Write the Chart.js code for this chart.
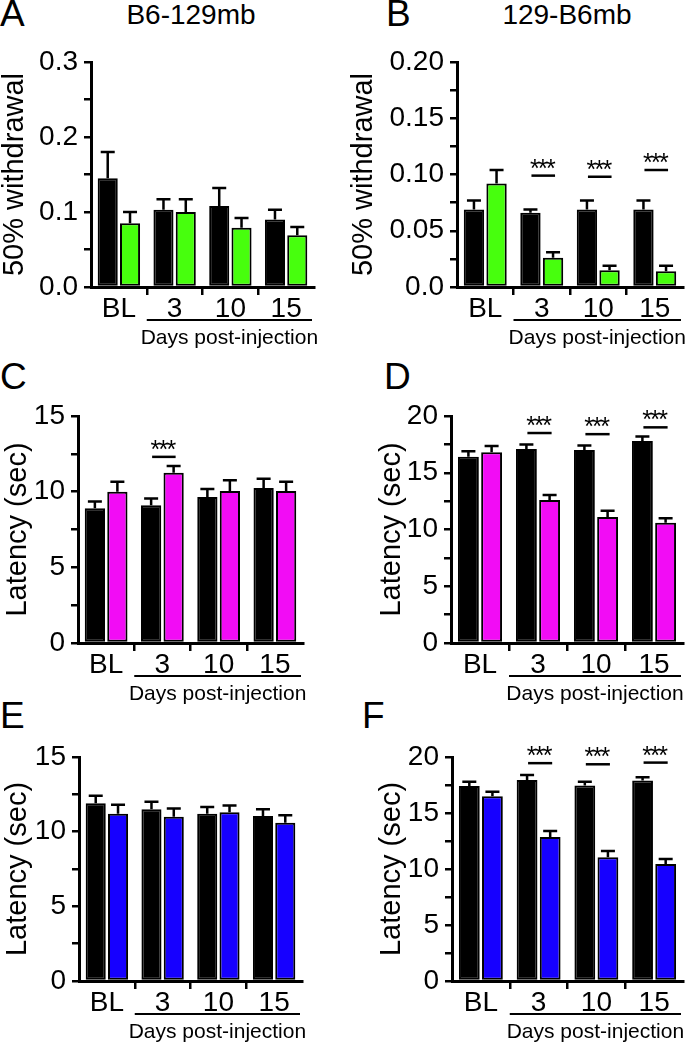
<!DOCTYPE html>
<html>
<head>
<meta charset="utf-8">
<script src="https://cdn.jsdelivr.net/npm/chart.js@4"></script>
<style>
  body { margin: 0; background: #fff; width: 685px; height: 1043px; position: relative; overflow: hidden;
         font-family: "Liberation Sans", Arial, sans-serif; color: #000; }
  canvas { position: absolute; }
  .letter { position: absolute; font-size: 37px; line-height: 1; }
  .title { position: absolute; font-size: 28px; line-height: 1; width: 200px; text-align: center; }
</style>
</head>
<body>
<div class="letter" style="left:0px;top:-5px">A</div>
<div class="letter" style="left:386px;top:-5px">B</div>
<div class="letter" style="left:0px;top:358px">C</div>
<div class="letter" style="left:384px;top:358px">D</div>
<div class="letter" style="left:0px;top:697px">E</div>
<div class="letter" style="left:362px;top:697px">F</div>
<div class="title" style="left:91px;top:1px">B6-129mb</div>
<div class="title" style="left:467px;top:1px">129-B6mb</div>

<canvas id="chartA" width="340" height="350" style="left:0;top:0"></canvas>
<canvas id="chartB" width="345" height="350" style="left:340px;top:0"></canvas>
<canvas id="chartC" width="340" height="360" style="left:0;top:345px"></canvas>
<canvas id="chartD" width="345" height="360" style="left:340px;top:345px"></canvas>
<canvas id="chartE" width="340" height="353" style="left:0;top:690px"></canvas>
<canvas id="chartF" width="345" height="353" style="left:340px;top:690px"></canvas>

<script>
// Data
const days = ['BL', '3', '10', '15'];
const xNote = 'Days post-injection';

// A - B6-129mb, von Frey
const aBlack = [0.145, 0.103, 0.108, 0.090];
const aBlackErr = [0.035, 0.014, 0.024, 0.013];
const aGreen = [0.085, 0.100, 0.079, 0.069];
const aGreenErr = [0.015, 0.017, 0.013, 0.011];
const aTicks = ['0.0', '', '0.1', '', '0.2', '', '0.3'];

// B - 129-B6mb, von Frey
const bBlack = [0.069, 0.066, 0.069, 0.069];
const bBlackErr = [0.008, 0.003, 0.008, 0.008];
const bGreen = [0.092, 0.026, 0.015, 0.014];
const bGreenErr = [0.012, 0.005, 0.004, 0.005];
const bSig = [null, 0.099, 0.098, 0.104];
const bTicks = ['0.0', '', '0.05', '', '0.10', '', '0.15', '', '0.20'];

// C / D - latency (magenta)
const cBlack = [8.9, 9.1, 9.65, 10.25];
const cBlackErr = [0.45, 0.45, 0.53, 0.6];
const cPink = [10.0, 11.25, 10.05, 10.05];
const cPinkErr = [0.65, 0.45, 0.7, 0.6];
const cSig = [null, 12.3, null, null];

const dBlack = [16.4, 17.1, 17.0, 17.8];
const dBlackErr = [0.5, 0.4, 0.4, 0.4];
const dPink = [16.8, 12.6, 11.1, 10.6];
const dPinkErr = [0.55, 0.45, 0.55, 0.4];
const dSig = [null, 18.5, 18.4, 19.0];

// E / F - latency (blue)
const eBlack = [11.9, 11.5, 11.2, 11.05];
const eBlackErr = [0.5, 0.5, 0.45, 0.45];
const eBlue = [11.2, 11.0, 11.3, 10.6];
const eBlueErr = [0.6, 0.55, 0.45, 0.5];

const fBlack = [17.4, 17.95, 17.45, 17.9];
const fBlackErr = [0.4, 0.45, 0.35, 0.3];
const fBlue = [16.5, 12.85, 11.05, 10.45];
const fBlueErr = [0.4, 0.55, 0.55, 0.45];
const fSig = [null, 19.45, 19.35, 19.5];

const lat15Ticks = ['0', '', '5', '', '10', '', '15'];
const lat20Ticks = ['0', '', '5', '', '10', '', '15', '', '20'];

const FAMILY = '"Liberation Sans", Arial, sans-serif';
const GREEN = '#47FF0D';
const PINK = '#F20CF5';
const BLUE = '#1600FF';

Chart.defaults.font.family = FAMILY;
Chart.defaults.color = '#000';

// error bars, significance marks and the "days" underline
const extras = {
  id: 'extras',
  afterDatasetsDraw(chart, args, opts) {
    const ctx = chart.ctx;
    const y = chart.scales.y;
    const x = chart.scales.x;
    ctx.save();
    ctx.strokeStyle = '#000';
    ctx.fillStyle = '#000';

    ctx.lineWidth = 2.5;
    chart.data.datasets.forEach((ds, di) => {
      chart.getDatasetMeta(di).data.forEach((bar, i) => {
        const top = y.getPixelForValue(ds.data[i] + ds.errors[i]);
        ctx.beginPath();
        ctx.moveTo(bar.x, bar.y);
        ctx.lineTo(bar.x, top);
        ctx.moveTo(bar.x - 7, top);
        ctx.lineTo(bar.x + 7, top);
        ctx.stroke();
      });
    });

    if (opts.sig) {
      const m0 = chart.getDatasetMeta(0).data;
      const m1 = chart.getDatasetMeta(1).data;
      ctx.lineWidth = 2.5;
      ctx.font = '25px ' + FAMILY;
      ctx.textAlign = 'center';
      ctx.textBaseline = 'alphabetic';
      opts.sig.forEach((v, i) => {
        if (v == null) return;
        const yy = y.getPixelForValue(v);
        const mid = (m0[i].x + m1[i].x) / 2 + 1;
        ctx.beginPath();
        ctx.moveTo(m0[i].x + 1, yy);
        ctx.lineTo(m1[i].x + 2, yy);
        ctx.stroke();
        [-8, 0, 8].forEach(dx => ctx.fillText('*', mid + dx, yy + 1));
      });
    }

    const x0 = x.getPixelForValue(0.5);
    const x1 = chart.chartArea.right - 2;
    const base = chart.chartArea.bottom;
    ctx.lineWidth = 2;
    ctx.beginPath();
    ctx.moveTo(x0, base + 33);
    ctx.lineTo(x1, base + 33);
    ctx.stroke();
    ctx.font = '21px ' + FAMILY;
    ctx.textAlign = 'center';
    ctx.textBaseline = 'middle';
    ctx.fillText(xNote, (x0 + x1) / 2, base + 51);
    ctx.restore();
  }
};

function makePanel(id, cfg) {
  const canvas = document.getElementById(id);
  const W = canvas.width, H = canvas.height;
  const [left, top, right, bottom] = cfg.area;
  return new Chart(canvas, {
    type: 'bar',
    data: {
      labels: days,
      datasets: [
        { data: cfg.black, errors: cfg.blackErr, backgroundColor: '#000' },
        { data: cfg.other, errors: cfg.otherErr, backgroundColor: cfg.fill }
      ].map(ds => Object.assign(ds, {
        borderColor: '#000', borderWidth: 2, borderSkipped: false,
        categoryPercentage: 0.8, barPercentage: 0.9
      }))
    },
    options: {
      responsive: false,
      animation: false,
      devicePixelRatio: 1,
      layout: { padding: { left: 0, top: top, right: W - right, bottom: 0 } },
      plugins: {
        legend: { display: false },
        tooltip: { enabled: false },
        extras: { sig: cfg.sig }
      },
      scales: {
        x: {
          afterFit: s => { s.height = H - bottom; },
          ticks: { color: '#000', font: { size: 28, lineHeight: 1 }, padding: 0, autoSkip: false, maxRotation: 0 },
          grid: {
            offset: true, drawOnChartArea: false, drawTicks: true, tickLength: 8, lineWidth: 2.5,
            color: c => (c.index > 0 && c.index < days.length) ? '#000' : 'rgba(0,0,0,0)'
          },
          border: { display: true, color: '#000', width: 3 }
        },
        y: {
          min: 0,
          max: cfg.max,
          afterFit: s => { s.width = left; },
          ticks: {
            stepSize: cfg.step, autoSkip: false, color: '#000', padding: 6,
            font: { size: 28 },
            callback: (v, i) => cfg.ticks[i]
          },
          grid: { drawOnChartArea: false, drawTicks: true, tickLength: 7, lineWidth: 2.5, color: '#000' },
          border: { display: true, color: '#000', width: 3 },
          title: {
            display: true, text: cfg.yTitle, color: '#000',
            font: { size: 29, lineHeight: 1 }, padding: { top: cfg.titlePad, bottom: 0 }
          }
        }
      }
    },
    plugins: [extras]
  });
}

makePanel('chartA', {
  black: aBlack, blackErr: aBlackErr, other: aGreen, otherErr: aGreenErr, fill: GREEN,
  max: 0.3, step: 0.05, ticks: aTicks, yTitle: '50% withdrawal', titlePad: 0,
  area: [91, 62, 314, 287]
});
makePanel('chartB', {
  black: bBlack, blackErr: bBlackErr, other: bGreen, otherErr: bGreenErr, fill: GREEN, sig: bSig,
  max: 0.2, step: 0.025, ticks: bTicks, yTitle: '50% withdrawal', titlePad: 9,
  area: [117, 62, 343, 287]
});
makePanel('chartC', {
  black: cBlack, blackErr: cBlackErr, other: cPink, otherErr: cPinkErr, fill: PINK, sig: cSig,
  max: 15, step: 2.5, ticks: lat15Ticks, yTitle: 'Latency (sec)', titlePad: 3,
  area: [78, 71, 303, 298]
});
makePanel('chartD', {
  black: dBlack, blackErr: dBlackErr, other: dPink, otherErr: dPinkErr, fill: PINK, sig: dSig,
  max: 20, step: 2.5, ticks: lat20Ticks, yTitle: 'Latency (sec)', titlePad: 37,
  area: [111, 71, 343, 298]
});
makePanel('chartE', {
  black: eBlack, blackErr: eBlackErr, other: eBlue, otherErr: eBlueErr, fill: BLUE,
  max: 15, step: 2.5, ticks: lat15Ticks, yTitle: 'Latency (sec)', titlePad: 3,
  area: [79, 67, 302, 291]
});
makePanel('chartF', {
  black: fBlack, blackErr: fBlackErr, other: fBlue, otherErr: fBlueErr, fill: BLUE, sig: fSig,
  max: 20, step: 2.5, ticks: lat20Ticks, yTitle: 'Latency (sec)', titlePad: 37,
  area: [112, 67, 343, 291]
});
</script>
</body>
</html>
